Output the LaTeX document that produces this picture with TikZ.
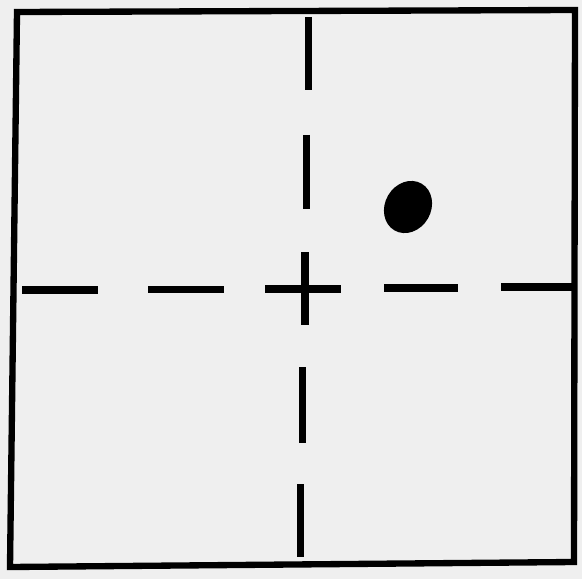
\documentclass[tikz,border=0pt]{standalone}
\usepackage{tikz}
\usepackage{xcolor}
\usetikzlibrary{shapes.geometric}
\definecolor{paper}{RGB}{239,239,239}

\begin{document}
\begin{tikzpicture}[x=0.01cm,y=-0.01cm]
    \fill[paper] (0,0) rectangle (582,579);
    \useasboundingbox (0,0) rectangle (582,579);
    % frame
    \coordinate (TL) at (17,12);
    \coordinate (TR) at (575,10);
    \coordinate (BR) at (574,562);
    \coordinate (BL) at (10,567);
    \draw [line width=1.8pt, line join=miter] (TL)--(TR)--(BR)--(BL)--cycle;
    % dashed cross
    \foreach \a/\b/\y in {22/98/290, 148/224/289.5, 265/341/289, 384/458/288, 501/575/287}
        \draw [line width=2pt] (\a,\y)--(\b,\y);
    \foreach \a/\b/\x in {17/90/308.5, 135/209/306.5, 252/325/305, 367/443/302.5, 484/557/300.5}
        \draw [line width=2pt] (\x,\a)--(\x,\b);
    % spot
    \node [ellipse, fill=black, inner sep=0pt, minimum width=0.46cm, minimum height=0.54cm, rotate=-30] (S) at (408,207) {};
\end{tikzpicture}
\end{document}
